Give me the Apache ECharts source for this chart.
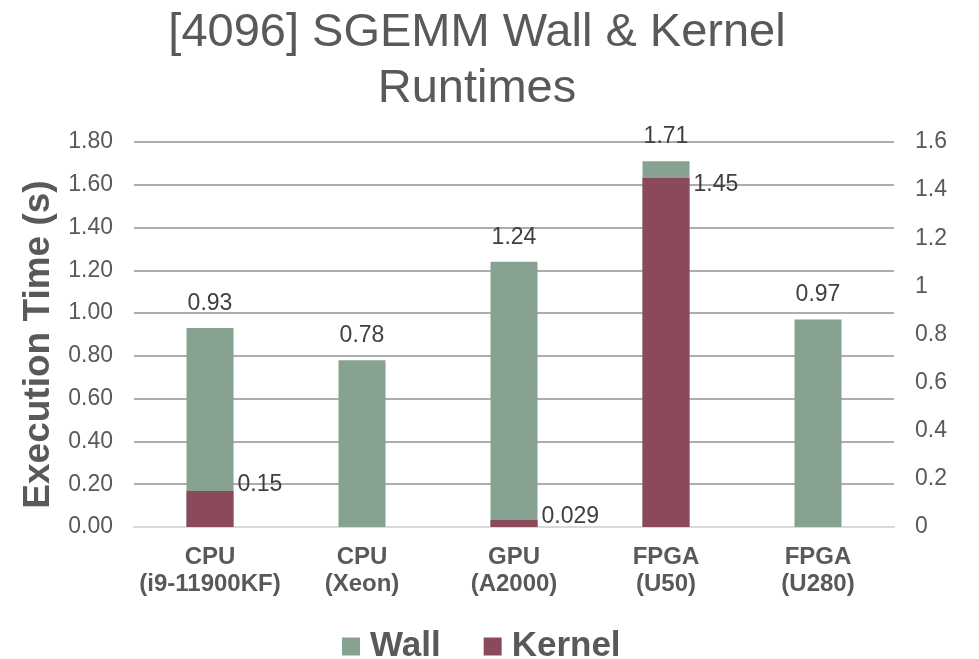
<!DOCTYPE html>
<html>
<head>
<meta charset="utf-8">
<script src="https://cdn.jsdelivr.net/npm/echarts@6/dist/echarts.min.js"></script>
<style>
  html, body { margin: 0; padding: 0; background: #ffffff; }
  #chart { width: 979px; height: 659px; }
</style>
</head>
<body>
<div id="chart"></div>
<script>
// Platforms compared
const categories = [
  'CPU\n(i9-11900KF)',
  'CPU\n(Xeon)',
  'GPU\n(A2000)',
  'FPGA\n(U50)',
  'FPGA\n(U280)'
];

// End-to-end wall-clock time (s), left axis
const wallTimes = [0.93, 0.78, 1.24, 1.71, 0.97];

// Kernel-only time (s), right axis; null where not measured
const kernelTimes = [0.15, null, 0.029, 1.45, null];
const kernelLabels = ['0.15', '', '0.029', '1.45', ''];

// Axis tick settings
const leftAxisMax = 1.8;
const rightAxisMax = 1.6;
const tickStep = 0.2;

// Small vertical nudges for the kernel value labels (px)
const kernelLabelNudge = [-6, 0, -3, 7, 0];

const FONT = "'Liberation Sans', Arial, sans-serif";
const TEXT = '#595959';
const WALL = '#87A291';
const KERNEL = '#8A4A5C';

const kernelData = kernelTimes.map((v, i) => v === null ? '-' : {
  value: v,
  label: { offset: [4, kernelLabelNudge[i]] }
});

const chart = echarts.init(document.getElementById('chart'), null, { renderer: 'canvas' });

chart.setOption({
  animation: false,
  backgroundColor: '#ffffff',
  title: {
    text: '[4096] SGEMM Wall & Kernel\nRuntimes',
    left: 472,
    top: 0,
    textAlign: 'center',
    textStyle: {
      fontFamily: FONT,
      fontSize: 47,
      fontWeight: 'normal',
      color: TEXT,
      lineHeight: 56
    }
  },
  legend: {
    data: ['Wall', 'Kernel'],
    left: 337,
    top: 624,
    icon: 'rect',
    itemWidth: 18,
    itemHeight: 18,
    itemGap: 43,
    textStyle: {
      fontFamily: FONT,
      fontSize: 35,
      fontWeight: 'bold',
      color: TEXT,
      padding: [0, 0, 0, 5]
    }
  },
  grid: {
    left: 134,
    right: 85,
    top: 142,
    bottom: 132,
    containLabel: false
  },
  xAxis: {
    type: 'category',
    data: categories,
    axisTick: { show: false },
    axisLine: { lineStyle: { color: '#D9D9D9', width: 2 } },
    axisLabel: {
      fontFamily: FONT,
      fontSize: 24,
      fontWeight: 'bold',
      color: TEXT,
      lineHeight: 27,
      margin: 17,
      interval: 0
    }
  },
  yAxis: [
    {
      type: 'value',
      min: 0,
      max: leftAxisMax,
      interval: tickStep,
      name: 'Execution Time (s)',
      nameLocation: 'middle',
      nameGap: 72,
      nameTextStyle: {
        fontFamily: FONT,
        fontSize: 37,
        fontWeight: 'bold',
        color: TEXT,
        padding: [0, 20, 0, 0]
      },
      axisLine: { show: false },
      axisTick: { show: false },
      splitLine: { lineStyle: { color: '#B0ABAC', width: 2 } },
      axisLabel: {
        fontFamily: FONT,
        fontSize: 23,
        color: TEXT,
        margin: 21,
        formatter: v => v.toFixed(2)
      }
    },
    {
      type: 'value',
      min: 0,
      max: rightAxisMax,
      interval: tickStep,
      position: 'right',
      axisLine: { show: false },
      axisTick: { show: false },
      splitLine: { show: false },
      axisLabel: {
        fontFamily: FONT,
        fontSize: 23,
        color: TEXT,
        margin: 21,
        formatter: v => String(Math.round(v * 10) / 10)
      }
    }
  ],
  series: [
    {
      name: 'Wall',
      type: 'bar',
      yAxisIndex: 0,
      data: wallTimes,
      barWidth: 47,
      barGap: '-100%',
      itemStyle: { color: WALL },
      label: {
        show: true,
        position: 'top',
        distance: 13,
        fontFamily: FONT,
        fontSize: 23,
        color: '#404040',
        formatter: p => p.value.toFixed(2)
      },
      z: 2
    },
    {
      name: 'Kernel',
      type: 'bar',
      yAxisIndex: 1,
      data: kernelData,
      barWidth: 47,
      barGap: '-100%',
      itemStyle: { color: KERNEL },
      label: {
        show: true,
        position: ['100%', 0],
        align: 'left',
        verticalAlign: 'middle',
        fontFamily: FONT,
        fontSize: 23,
        color: '#404040',
        formatter: p => kernelLabels[p.dataIndex]
      },
      z: 3
    }
  ]
});
</script>
</body>
</html>
